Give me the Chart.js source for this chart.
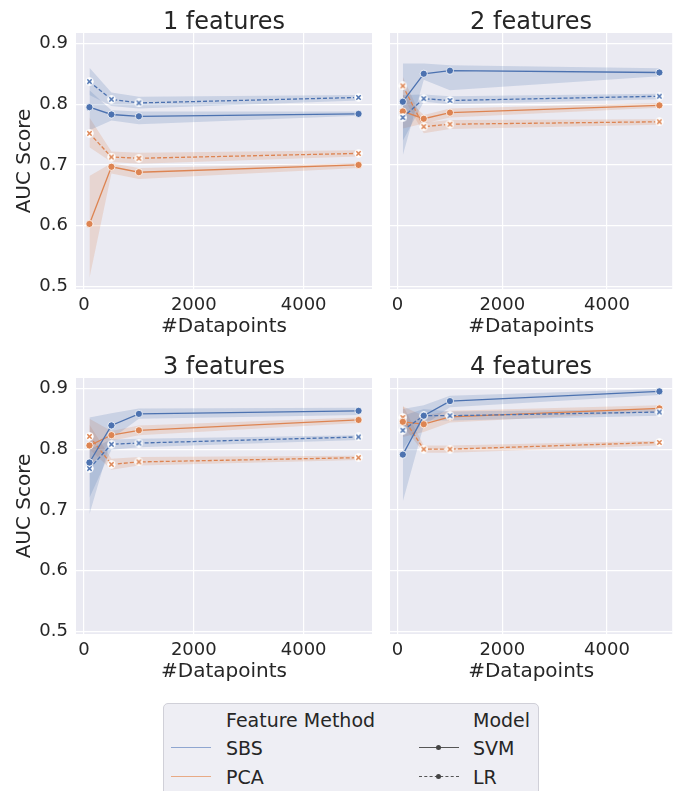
<!DOCTYPE html>
<html>
<head>
<meta charset="utf-8">
<script src="https://cdn.jsdelivr.net/npm/chart.js@4.4.1/dist/chart.umd.min.js"></script>
<style>
  body { margin: 0; background: #fff; width: 677px; height: 791px; overflow: hidden; position: relative;
         font-family: "DejaVu Sans", sans-serif; color: #262626; }
  canvas.panel { position: absolute; }
  #legend { position: absolute; left: 163px; top: 703px; width: 376px; height: 100px; box-sizing: border-box;
            border: 1px solid #d0d0d8; border-radius: 5px; background: #eeeef4; }
  .lg { position: absolute; font-size: 19px; line-height: 22px; white-space: nowrap; }
  .ln { position: absolute; width: 40px; height: 0; }
  .dot { position: absolute; width: 5px; height: 5px; border-radius: 50%; background: #444; }
</style>
</head>
<body>
<canvas class="panel" id="p0" width="380" height="345" style="left:0;top:0"></canvas>
<canvas class="panel" id="p1" width="297" height="345" style="left:380px;top:0"></canvas>
<canvas class="panel" id="p2" width="380" height="345" style="left:0;top:345px"></canvas>
<canvas class="panel" id="p3" width="297" height="345" style="left:380px;top:345px"></canvas>

<div id="legend">
  <div class="lg" style="left:62px;top:5px">Feature Method</div>
  <div class="lg" style="left:309px;top:5px">Model</div>
  <div class="ln" style="left:7px;top:43px;border-top:1.5px solid #8fa6d0"></div>
  <div class="lg" style="left:62px;top:33px">SBS</div>
  <div class="ln" style="left:7px;top:72px;border-top:1.5px solid #e8aa85"></div>
  <div class="lg" style="left:62px;top:62px">PCA</div>
  <div class="ln" style="left:255px;top:43px;border-top:1.5px solid #555"></div>
  <div class="dot" style="left:272px;top:41px"></div>
  <div class="lg" style="left:309px;top:33px">SVM</div>
  <div class="ln" style="left:255px;top:72px;border-top:1.5px dashed #555"></div>
  <div class="dot" style="left:272px;top:70px"></div>
  <div class="lg" style="left:309px;top:62px">LR</div>
</div>

<script>
const datapoints = [100, 500, 1000, 5000];
const panelTitles = ["1 features", "2 features", "3 features", "4 features"];
const xTicks = [0, 2000, 4000];
const yTicks = [0.5, 0.6, 0.7, 0.8, 0.9];

// mean AUC, one row per panel (1..4 features)
const sbsSvm = [
  [0.795, 0.783, 0.780, 0.784],
  [0.804, 0.850, 0.855, 0.852],
  [0.778, 0.839, 0.858, 0.863],
  [0.791, 0.855, 0.879, 0.895],
];
const sbsLr = [
  [0.837, 0.808, 0.802, 0.811],
  [0.778, 0.809, 0.806, 0.813],
  [0.768, 0.808, 0.810, 0.820],
  [0.831, 0.855, 0.855, 0.861],
];
const pcaSvm = [
  [0.603, 0.697, 0.688, 0.700],
  [0.788, 0.776, 0.786, 0.798],
  [0.806, 0.823, 0.831, 0.848],
  [0.845, 0.841, 0.853, 0.867],
];
const pcaLr = [
  [0.752, 0.713, 0.711, 0.719],
  [0.830, 0.763, 0.767, 0.771],
  [0.821, 0.775, 0.779, 0.786],
  [0.852, 0.800, 0.800, 0.811],
];

// confidence bands
const sbsSvmLow  = [[0.757, 0.773, 0.767, 0.781], [0.716, 0.840, 0.823, 0.846], [0.693, 0.817, 0.850, 0.856], [0.714, 0.839, 0.869, 0.889]];
const sbsSvmHigh = [[0.823, 0.790, 0.788, 0.788], [0.867, 0.867, 0.864, 0.859], [0.852, 0.859, 0.867, 0.868], [0.866, 0.872, 0.888, 0.899]];
const sbsLrLow   = [[0.815, 0.797, 0.793, 0.806], [0.740, 0.804, 0.800, 0.808], [0.720, 0.799, 0.803, 0.815], [0.800, 0.847, 0.847, 0.855]];
const sbsLrHigh  = [[0.860, 0.819, 0.812, 0.815], [0.815, 0.816, 0.813, 0.817], [0.800, 0.816, 0.817, 0.823], [0.855, 0.866, 0.862, 0.866]];
const pcaSvmLow  = [[0.514, 0.686, 0.677, 0.695], [0.760, 0.768, 0.778, 0.794], [0.770, 0.814, 0.823, 0.843], [0.820, 0.828, 0.844, 0.862]];
const pcaSvmHigh = [[0.682, 0.703, 0.695, 0.703], [0.815, 0.782, 0.793, 0.802], [0.850, 0.830, 0.839, 0.852], [0.870, 0.855, 0.863, 0.872]];
const pcaLrLow   = [[0.729, 0.705, 0.702, 0.714], [0.812, 0.752, 0.759, 0.766], [0.800, 0.766, 0.773, 0.782], [0.839, 0.794, 0.794, 0.806]];
const pcaLrHigh  = [[0.778, 0.722, 0.720, 0.724], [0.845, 0.770, 0.774, 0.775], [0.840, 0.784, 0.787, 0.789], [0.872, 0.806, 0.806, 0.814]];

const blue = "#4c72b0";
const orange = "#dd8452";
const textColor = "#262626";
const font = "'DejaVu Sans', sans-serif";

// small "X" marker with a white halo, like seaborn's filled X
function xMarker(color) {
  const c = document.createElement("canvas");
  c.width = 9; c.height = 9;
  const g = c.getContext("2d");
  g.fillStyle = "#fff";
  g.beginPath(); g.arc(4.5, 4.5, 4.2, 0, Math.PI * 2); g.fill();
  g.lineCap = "butt";
  g.beginPath();
  g.moveTo(2.3, 2.3); g.lineTo(6.7, 6.7);
  g.moveTo(6.7, 2.3); g.lineTo(2.3, 6.7);
  g.strokeStyle = color; g.lineWidth = 1.5; g.stroke();
  return c;
}

const series = [
  { mean: sbsSvm, low: sbsSvmLow, high: sbsSvmHigh, color: blue,   band: "rgba(76,114,176,0.2)",  dash: [],     marker: "circle" },
  { mean: sbsLr,  low: sbsLrLow,  high: sbsLrHigh,  color: blue,   band: "rgba(76,114,176,0.2)",  dash: [4, 2], marker: xMarker(blue) },
  { mean: pcaSvm, low: pcaSvmLow, high: pcaSvmHigh, color: orange, band: "rgba(221,132,82,0.2)",  dash: [],     marker: "circle" },
  { mean: pcaLr,  low: pcaLrLow,  high: pcaLrHigh,  color: orange, band: "rgba(221,132,82,0.2)",  dash: [4, 2], marker: xMarker(orange) },
];

const pts = (arr) => datapoints.map((x, i) => ({ x: x, y: arr[i] }));

// axes face + panel title centred on the plot area
const panelDecor = {
  id: "panelDecor",
  beforeDraw(chart) {
    const a = chart.chartArea, ctx = chart.ctx;
    ctx.save();
    ctx.fillStyle = "#eaeaf2";
    ctx.fillRect(a.left, a.top, a.right - a.left, a.bottom - a.top);
    ctx.restore();
  },
  afterDraw(chart, args, opts) {
    const a = chart.chartArea, ctx = chart.ctx;
    ctx.save();
    ctx.fillStyle = textColor;
    ctx.font = "24px " + font;
    ctx.textAlign = "center";
    ctx.textBaseline = "alphabetic";
    ctx.fillText(opts.text, (a.left + a.right) / 2, 29);
    ctx.restore();
  }
};

for (let p = 0; p < 4; p++) {
  const leftCol = p % 2 === 0;
  const datasets = [];
  series.forEach(s => {
    datasets.push({ data: pts(s.high[p]), borderWidth: 0, pointRadius: 0, fill: false, order: 5 });
    datasets.push({ data: pts(s.low[p]), borderWidth: 0, pointRadius: 0, fill: "-1", backgroundColor: s.band, order: 5 });
  });
  series.forEach(s => {
    datasets.push({
      data: pts(s.mean[p]),
      borderColor: s.color,
      borderWidth: 1.3,
      borderDash: s.dash,
      backgroundColor: s.color,
      pointStyle: s.marker,
      pointRadius: 3.6,
      pointBorderColor: "#fff",
      pointBorderWidth: 0.8,
      fill: false,
      order: 1,
    });
  });

  new Chart(document.getElementById("p" + p), {
    type: "line",
    data: { datasets },
    plugins: [panelDecor],
    options: {
      responsive: false,
      animation: false,
      layout: { padding: { top: 33, right: leftCol ? 8 : 1, left: 0, bottom: 0 } },
      plugins: {
        legend: { display: false },
        tooltip: { enabled: false },
        panelDecor: { text: panelTitles[p] },
      },
      scales: {
        x: {
          type: "linear",
          min: -145,
          max: 5245,
          afterBuildTicks: s => { s.ticks = xTicks.map(v => ({ value: v })); },
          afterFit: s => { s.height = 56; },
          grid: { color: "#fff", lineWidth: 1.2, drawTicks: false },
          border: { display: false },
          ticks: { color: textColor, font: { family: font, size: 18 }, padding: 6, maxRotation: 0, callback: v => String(v) },
          title: { display: true, text: "#Datapoints", color: textColor, font: { family: font, size: 20 }, padding: { top: 0, bottom: 6 } },
        },
        y: {
          min: 0.496,
          max: 0.917,
          afterBuildTicks: s => { s.ticks = yTicks.map(v => ({ value: v })); },
          afterFit: s => { s.width = leftCol ? 76 : 10; },
          grid: { color: "#fff", lineWidth: 1.2, drawTicks: false },
          border: { display: false },
          ticks: { display: leftCol, color: textColor, font: { family: font, size: 18 }, padding: 8, callback: v => v.toFixed(1) },
          title: { display: leftCol, text: "AUC Score", color: textColor, font: { family: font, size: 20 }, padding: { top: 13, bottom: 0 } },
        },
      },
    },
  });
}
</script>
</body>
</html>
